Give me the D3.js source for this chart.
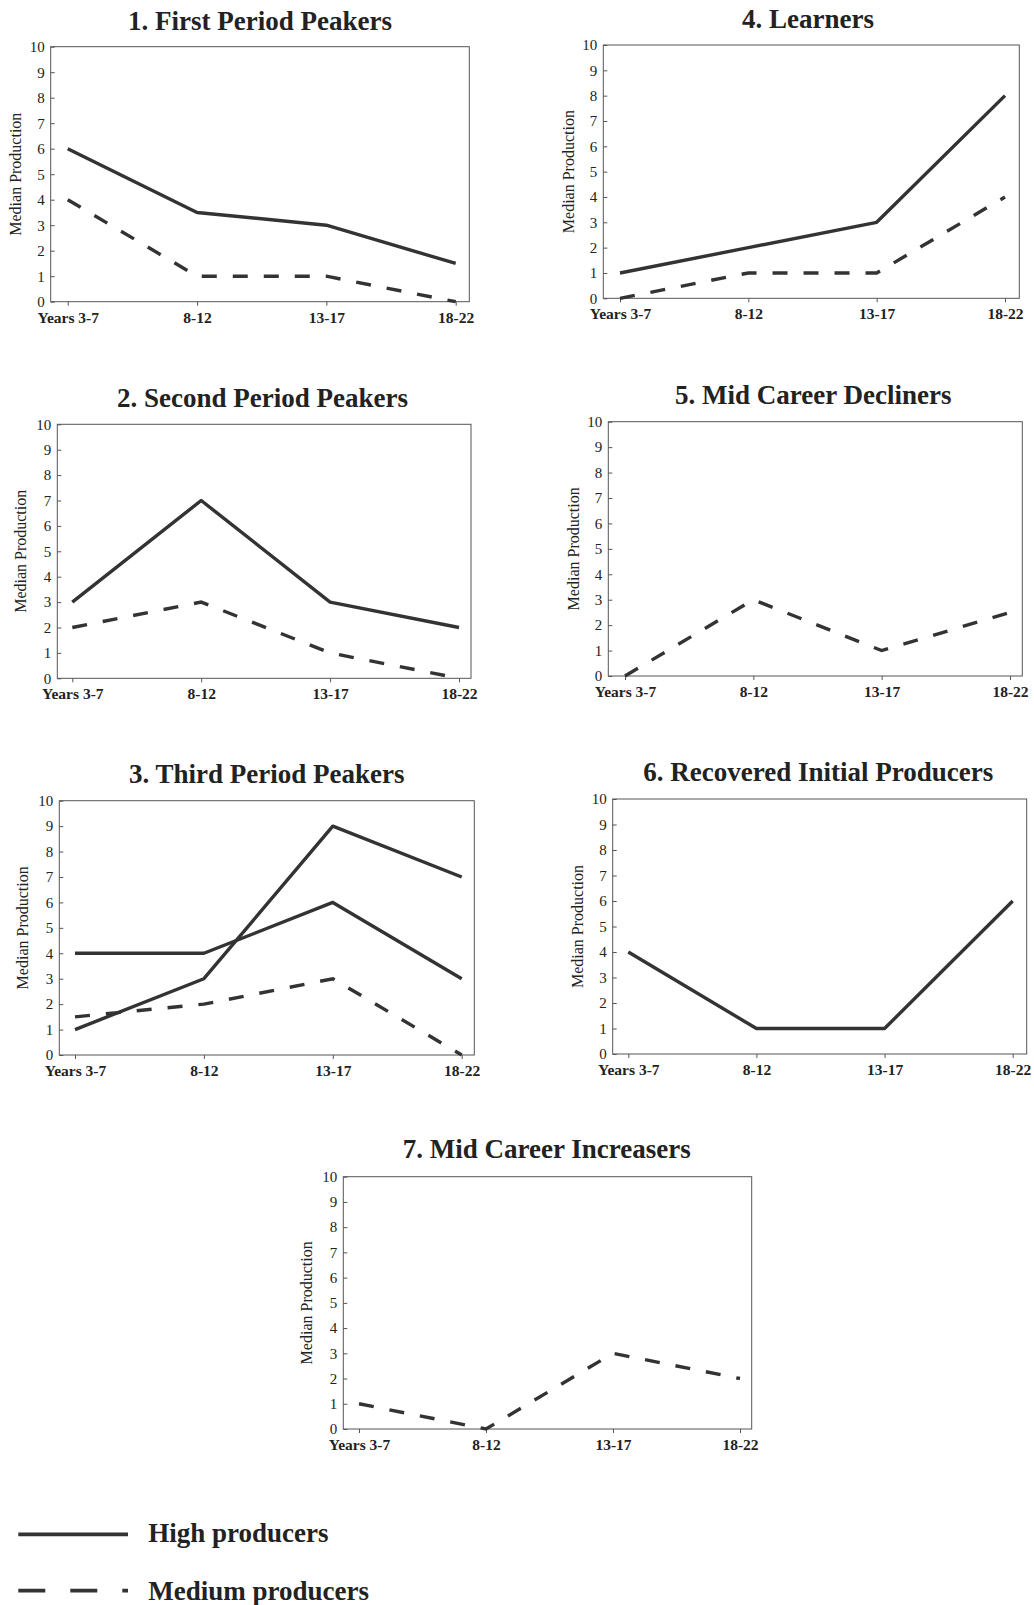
<!DOCTYPE html>
<html>
<head>
<meta charset="utf-8">
<script src="https://cdn.jsdelivr.net/npm/d3@7"></script>
<style>
  html, body { margin: 0; padding: 0; background: #fff; }
  svg { display: block; }
</style>
</head>
<body>
<script>
// ---- data ----
const periods = ["Years 3-7", "8-12", "13-17", "18-22"];
const yTicks = [0, 1, 2, 3, 4, 5, 6, 7, 8, 9, 10];
const panelTitles = [
  "1. First Period Peakers",
  "2. Second Period Peakers",
  "3. Third Period Peakers",
  "4. Learners",
  "5. Mid Career Decliners",
  "6. Recovered Initial Producers",
  "7. Mid Career Increasers"
];
// median production of high producers (one or more lines per panel)
const highSeries = [
  [[6, 3.5, 3, 1.5]],
  [[3, 7, 3, 2]],
  [[4, 4, 6, 3], [1, 3, 9, 7]],
  [[1, 2, 3, 8]],
  [],
  [[4, 1, 1, 6]],
  []
];
// median production of medium producers
const mediumSeries = [
  [[4, 1, 1, 0]],
  [[2, 3, 1, 0]],
  [[1.5, 2, 3, 0]],
  [[0, 1, 1, 4]],
  [[0, 3, 1, 2.5]],
  [],
  [[1, 0, 3, 2]]
];
const yAxisTitle = "Median Production";
const legendLabels = ["High producers", "Medium producers"];

// ---- layout (frame box and first/last category positions per panel) ----
const layout = [
  { left: 50.7,  top: 46.7,   right: 469.3,  bottom: 301.7, x0: 67.7,  x1: 455.7, tx: 260,   ty: 29.5,  lx: 15.7 },
  { left: 57.3,  top: 424.3,  right: 471,    bottom: 678.3, x0: 72.3,  x1: 459,   tx: 262.5, ty: 406.7, lx: 20.7 },
  { left: 59.3,  top: 800.7,  right: 474.3,  bottom: 1055,  x0: 75,    x1: 461.7, tx: 266.7, ty: 782.7, lx: 22.7 },
  { left: 603.3, top: 45,     right: 1019.3, bottom: 298.3, x0: 620,   x1: 1005,  tx: 808,   ty: 28,    lx: 568.3 },
  { left: 608.3, top: 421.7,  right: 1022.3, bottom: 676,   x0: 625,   x1: 1010,  tx: 813.3, ty: 404.3, lx: 573.3 },
  { left: 612.7, top: 799,    right: 1026.7, bottom: 1054,  x0: 628.3, x1: 1012.7,tx: 818.3, ty: 780.7, lx: 577.3 },
  { left: 343.3, top: 1176.7, right: 751.7,  bottom: 1429,  x0: 359,   x1: 740,   tx: 546.7, ty: 1157.7,lx: 306 }
];

const serif = "'Liberation Serif', 'Times New Roman', Times, serif";
const ink = "#333";
const dash = "15,16";

const svg = d3.select("body").append("svg")
  .attr("width", 1034).attr("height", 1605)
  .attr("font-family", serif);

panelTitles.forEach((title, i) => {
  const L = layout[i];
  const g = svg.append("g");
  const x = d3.scalePoint().domain(periods).range([L.x0, L.x1]);
  const y = d3.scaleLinear().domain([0, 10]).range([L.bottom, L.top]);

  // plot frame
  g.append("rect")
    .attr("x", L.left).attr("y", L.top)
    .attr("width", L.right - L.left).attr("height", L.bottom - L.top)
    .attr("fill", "none").attr("stroke", "#555").attr("stroke-width", 1);

  // y axis, ticks pointing inward
  const ya = g.append("g")
    .attr("transform", `translate(${L.left},0)`)
    .call(d3.axisLeft(y).tickValues(yTicks).tickSize(-4).tickPadding(6).tickFormat(d3.format("d")));
  ya.select(".domain").remove();
  ya.selectAll("line").attr("stroke", "#555");
  ya.selectAll("text").attr("font-family", serif).attr("font-size", 15).attr("fill", "#222");

  // x axis
  const xa = g.append("g")
    .attr("transform", `translate(0,${L.bottom})`)
    .call(d3.axisBottom(x).tickSize(4).tickPadding(6));
  xa.select(".domain").remove();
  xa.selectAll("line").attr("stroke", "#555");
  xa.selectAll("text").attr("font-family", serif).attr("font-size", 15.5)
    .attr("font-weight", "bold").attr("fill", "#222");

  // panel title
  g.append("text")
    .attr("x", L.tx).attr("y", L.ty)
    .attr("text-anchor", "middle")
    .attr("font-size", 27).attr("font-weight", "bold").attr("fill", "#222")
    .text(title);

  // y axis title
  g.append("text")
    .attr("transform", `translate(${L.lx},${(L.top + L.bottom) / 2}) rotate(-90)`)
    .attr("text-anchor", "middle").attr("dy", "0.35em")
    .attr("font-size", 16).attr("fill", "#222")
    .text(yAxisTitle);

  const line = d3.line()
    .x((d, j) => x(periods[j]))
    .y(d => y(d));

  g.selectAll("path.high").data(highSeries[i]).join("path")
    .attr("class", "high")
    .attr("d", line)
    .attr("fill", "none").attr("stroke", ink)
    .attr("stroke-width", 3.4).attr("stroke-linejoin", "round");

  g.selectAll("path.medium").data(mediumSeries[i]).join("path")
    .attr("class", "medium")
    .attr("d", line)
    .attr("fill", "none").attr("stroke", ink)
    .attr("stroke-width", 3.4).attr("stroke-dasharray", dash);
});

// legend
const legend = svg.append("g");
const legendRows = [
  { y: 1534.3, ty: 1542, dash: null },
  { y: 1590.7, ty: 1600, dash: "27,25" }
];
legendLabels.forEach((label, k) => {
  const r = legendRows[k];
  legend.append("line")
    .attr("x1", 18.3).attr("x2", 128).attr("y1", r.y).attr("y2", r.y)
    .attr("stroke", ink).attr("stroke-width", 3.8)
    .attr("stroke-dasharray", r.dash);
  legend.append("text")
    .attr("x", 148.3).attr("y", r.ty)
    .attr("font-size", 27).attr("font-weight", "bold").attr("fill", "#222")
    .text(label);
});
</script>
</body>
</html>
